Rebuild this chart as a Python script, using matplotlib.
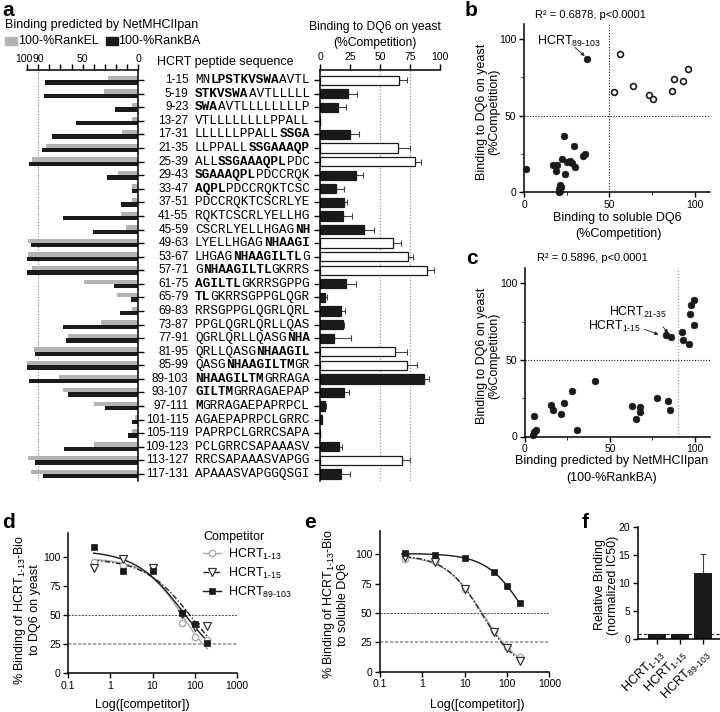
import numpy as np
import matplotlib
matplotlib.use('Agg')
import matplotlib.pyplot as plt
import matplotlib.transforms as mtransforms
from matplotlib.patches import Rectangle
from matplotlib.lines import Line2D
from matplotlib.ticker import FixedLocator, FuncFormatter, NullLocator

plt.rcParams['font.family'] = ['Liberation Sans', 'DejaVu Sans']
plt.rcParams['mathtext.fontset'] = 'custom'
plt.rcParams['mathtext.rm'] = 'Liberation Sans'
plt.rcParams['mathtext.it'] = 'Liberation Sans:italic'
plt.rcParams['mathtext.bf'] = 'Liberation Sans:bold'
plt.rcParams['axes.linewidth'] = 1.1
plt.rcParams['xtick.major.width'] = 1.0
plt.rcParams['ytick.major.width'] = 1.0

# ---------------- data ----------------
peptides = ['1-15', '5-19', '9-23', '13-27', '17-31', '21-35', '25-39', '29-43', '33-47',
            '37-51', '41-55', '45-59', '49-63', '53-67', '57-71', '61-75', '65-79', '69-83',
            '73-87', '77-91', '81-95', '85-99', '89-103', '93-107', '97-111', '101-115',
            '105-119', '109-123', '113-127', '117-131']
sequences = ['MN[LPSTKVSWA]AVTL', '[STKVSWA]AVTLLLLL', '[SWA]AVTLLLLLLLLP', 'VTLLLLLLLLPPALL',
             'LLLLLLPPALL[SSGA]', 'LLPPALL[SSGAAAQP]', 'ALL[SSGAAAQPL]PDC', '[SGAAAQPL]PDCCRQK',
             '[AQPL]PDCCRQKTCSC', 'PDCCRQKTCSCRLYE', 'RQKTCSCRLYELLHG', 'CSCRLYELLHGAG[NH]',
             'LYELLHGAG[NHAAGI]', 'LHGAG[NHAAGILTL]G', 'G[NHAAGILTL]GKRRS', '[AGILTL]GKRRSGPPG',
             '[TL]GKRRSGPPGLQGR', 'RRSGPPGLQGRLQRL', 'PPGLQGRLQRLLQAS', 'QGRLQRLLQASG[NHA]',
             'QRLLQASG[NHAAGIL]', 'QASG[NHAAGILTM]GR', '[NHAAGILTM]GRRAGA', '[GILTM]GRRAGAEPAP',
             '[M]GRRAGAEPAPRPCL', 'AGAEPAPRPCLGRRC', 'PAPRPCLGRRCSAPA', 'PCLGRRCSAPAAASV',
             'RRCSAPAAASVAPGG', 'APAAASVAPGGQSGI']
rank_el = [27, 31, 5, 5, 14, 83, 96, 18, 5, 5, 15, 11, 99, 99, 96, 49, 19, 5, 33, 63,
           94, 100, 71, 68, 40, 3, 5, 40, 99, 97]
rank_ba = [84, 85, 21, 56, 78, 87, 98, 28, 5, 15, 68, 41, 97, 100, 100, 22, 6, 16, 68, 65,
           93, 100, 98, 63, 30, 5, 9, 67, 93, 86]
yeast = [66.1, 23.3, 15.0, 0, 25.3, 65.3, 79.4, 30.0, 13.3, 20.3, 19.4, 36.7, 60.6, 73.0, 89.4,
         21.7, 4.2, 17.2, 18.9, 11.7, 62.8, 72.8, 86.7, 19.7, 4.4, 1.5, 0, 16.0, 68.0, 17.8]
yeast_err = [6.1, 7.8, 6.7, 0, 6.9, 9.7, 4.5, 6.1, 6.7, 1.9, 7.5, 8.3, 6.9, 4.8, 5.6,
             8.3, 1.4, 3.6, 1.4, 13.9, 10.0, 8.3, 4.4, 4.7, 0.6, 0.5, 0, 2.0, 7.0, 7.2]
soluble_binder = ['1-15', '21-35', '25-39', '49-63', '53-67', '57-71', '81-95', '85-99', '113-127']
top_tick_labels = {0: '0', 50: '50', 90: '90', 100: '100'}

# panel b: soluble DQ6 (x) vs yeast (y)
b_open_x = [56.4, 52.5, 64.1, 73.3, 75.8, 86.8, 87.8, 93.2, 96.1]
b_open_y = [90.1, 65.4, 69.3, 63.2, 61.0, 66.4, 73.7, 73.0, 80.3]
b_fill_x = [37.0, 1.2, 23.4, 29.3, 34.8, 35.7, 22.1, 25.0, 27.0, 28.0, 29.9, 17.2, 19.1,
            18.8, 24.0, 21.1, 21.7, 20.7, 21.1, 20.4]
b_fill_y = [86.8, 14.8, 36.8, 30.0, 23.5, 25.2, 21.5, 19.7, 20.2, 19.0, 16.4, 17.5, 17.5,
            13.6, 11.6, 4.8, 3.3, 1.8, 0.7, 0.3]

# panel c: predicted (100-%RankBA) vs yeast
c_x = [5.4, 6.4, 5.4, 5.0, 15.2, 16.6, 21.1, 23.1, 27.4, 30.5, 41.2, 62.8, 67.7, 67.5, 65.6,
       77.9, 84.3, 85.3, 83.0, 86.0, 92.6, 93.2, 96.7, 97.1, 97.7, 99.4, 99.6]
c_y = [13.5, 4.3, 2.7, 1.2, 20.3, 17.1, 14.9, 21.6, 29.5, 4.3, 36.4, 19.8, 19.2, 16.1, 11.2,
       25.4, 23.2, 17.4, 66.3, 65.2, 68.5, 62.7, 60.5, 79.9, 85.9, 89.1, 73.0]

# panels d/e: competition curves
conc = [0.4, 2, 10, 50, 100, 200]
d_hcrt1_13 = [95.4, 93.0, 89.0, 43.4, 31.4, 28.6]
d_hcrt1_15 = [90.0, 97.7, 90.0, 50.9, 39.4, 40.9]
d_hcrt89_103 = [108.6, 87.7, 88.0, 51.4, 42.0, 26.3]
e_hcrt1_13 = [95.7, 94.6, 70.5, 35.0, 21.0, 12.2]
e_hcrt1_15 = [97.4, 93.75, 70.2, 34.1, 19.9, 9.4]
e_hcrt89_103 = [101.4, 99.4, 96.6, 85.2, 73.0, 58.2]

# panel f
f_labels = [r'HCRT$_{\mathregular{1\text{-}13}}$', r'HCRT$_{\mathregular{1\text{-}15}}$',
            r'HCRT$_{\mathregular{89\text{-}103}}$']
f_values = [0.9, 1.0, 11.7]
f_err = [0.0, 0.0, 3.5]

# ---------------- figure ----------------
W, H = 720, 712
fig = plt.figure(figsize=(7.2, 7.12), dpi=100)


def add_ax(l, t, r, b, **kw):
    return fig.add_axes([l / W, 1 - b / H, (r - l) / W, (b - t) / H], **kw)


ov = add_ax(0, 0, W, H)
ov.set_xlim(0, W)
ov.set_ylim(H, 0)
ov.axis('off')
ov.patch.set_alpha(0)

DARK = '#1a1a1a'
GRAY = '#b3b3b3'


def txt(x, y, s, **kw):
    kw.setdefault('fontsize', 9)
    kw.setdefault('va', 'center')
    return ov.text(x, y, s, **kw)


# panel letters
for lab, x, y in [('a', 2, 10), ('b', 465, 10), ('c', 466, 258), ('d', 2, 523),
                  ('e', 304, 523), ('f', 582, 523)]:
    txt(x, y, lab, fontsize=15, fontweight='bold', ha='left')

n = len(peptides)
ypos = np.arange(n)

# ----- panel a, left (prediction) -----
axL = add_ax(27.2, 70, 138, 481.4)
axL.set_xlim(100, 0)
axL.set_ylim(n - 0.45, -0.75)
axL.barh(ypos - 0.16, rank_el, height=0.32, color=GRAY, zorder=2)
axL.barh(ypos + 0.16, rank_ba, height=0.32, color=DARK, zorder=2)
axL.axvline(90, color='#888888', lw=0.8, ls=(0, (1, 1.5)), zorder=1)
for s in ['left', 'bottom']:
    axL.spines[s].set_visible(False)
axL.xaxis.tick_top()
axL.yaxis.tick_right()
axL.set_yticks(ypos)
axL.set_yticklabels([])
axL.set_xticks(np.arange(0, 101, 10))
axL.set_xticklabels([])
axL.tick_params(axis='x', direction='out', length=4)
axL.tick_params(axis='y', direction='out', length=4.5)
axL.patch.set_alpha(0)
# top tick labels; "100" is nudged left so it does not collide with "90"
tl_trans = mtransforms.blended_transform_factory(axL.transData, ov.transData)
for v, s in top_tick_labels.items():
    nudge = -3.0 if v == 100 else 0.0
    ov.text(v - nudge / 1.108, 58.5, s, transform=tl_trans, ha='center', va='center', fontsize=7.5)

# ----- peptide names and sequences -----
trans = mtransforms.blended_transform_factory(ov.transData, axL.transData)
seq_fs = 9.2
cw = 0.6 * seq_fs * 100 / 72.0
for i, (pep, seq) in enumerate(zip(peptides, sequences)):
    ov.text(188.5, i, pep, transform=trans, ha='right', va='center', fontsize=8.5)
    col = 0
    bold = False
    cur = ''
    segs = []
    for ch in seq:
        if ch in '[]':
            if cur:
                segs.append((cur, bold))
            cur = ''
            bold = (ch == '[')
        else:
            cur += ch
    if cur:
        segs.append((cur, bold))
    for s, bd in segs:
        ov.text(195 + col * cw, i, s, transform=trans, ha='left', va='center',
                fontsize=seq_fs, family='Liberation Mono',
                fontweight='bold' if bd else 'normal')
        col += len(s)
txt(157, 62, 'HCRT peptide sequence', ha='left')

# legend of panel a
txt(5, 25, 'Binding predicted by NetMHCIIpan', ha='left')
ov.add_patch(Rectangle((5, 37), 12, 8, color=GRAY))
txt(18, 41, '100-%RankEL', ha='left')
ov.add_patch(Rectangle((106, 37), 12, 8, color=DARK))
txt(118, 41, '100-%RankBA', ha='left')

# ----- panel a, right (yeast) -----
axR = add_ax(320, 70, 440, 481.4)
axR.set_xlim(0, 100)
axR.set_ylim(n - 0.45, -0.75)
fcols = ['white' if p in soluble_binder else DARK for p in peptides]
axR.barh(ypos, yeast, height=0.68, color=fcols, edgecolor=DARK, lw=0.9, zorder=2)
axR.errorbar(yeast, ypos, xerr=[np.zeros(n), yeast_err], fmt='none', ecolor='#444444',
             elinewidth=0.8, capsize=2.2, capthick=0.8, zorder=1.5)
for v in (50, 75):
    axR.axvline(v, color='#999999', lw=0.9, ls=(0, (1, 1.5)), zorder=1)
for s in ['right', 'bottom']:
    axR.spines[s].set_visible(False)
axR.xaxis.tick_top()
axR.set_xticks([0, 25, 50, 75, 100])
axR.set_yticks(ypos)
axR.set_yticklabels([])
axR.tick_params(axis='x', direction='out', length=4, labelsize=7.5, pad=1.5)
axR.tick_params(axis='y', direction='out', length=4.5)
axR.patch.set_alpha(0)
txt(375, 27, 'Binding to DQ6 on yeast', ha='center', fontsize=8.7)
txt(375, 43, '(%Competition)', ha='center', fontsize=8.7)


def style_xy(ax):
    for s in ['right', 'top']:
        ax.spines[s].set_visible(False)
    ax.tick_params(direction='out', length=3.5, labelsize=7.5, pad=2)
    ax.patch.set_alpha(0)


# ----- panel b -----
axB = add_ax(524, 24, 710, 192)
axB.set_xlim(0, 109)
axB.set_ylim(0, 110)
axB.axvline(50, color=DARK, lw=0.8, ls=(0, (1, 1.5)), zorder=1)
axB.axhline(50, color=DARK, lw=0.8, ls=(0, (1, 1.5)), zorder=1)
axB.plot(b_fill_x, b_fill_y, 'o', color=DARK, ms=4.9, mew=0.4, zorder=3, clip_on=False)
axB.plot(b_open_x, b_open_y, 'o', mfc='white', mec=DARK, ms=4.2, mew=1.2, zorder=3)
axB.set_xticks([0, 50, 100])
axB.set_yticks([0, 50, 100])
axB.xaxis.set_minor_locator(FixedLocator([25, 75]))
axB.yaxis.set_minor_locator(FixedLocator([25, 75]))
axB.tick_params(which='minor', direction='out', length=2.5)
style_xy(axB)
axB.text(7.6, 98.9, r'HCRT$_{\mathregular{89\text{-}103}}$', ha='left', va='center', fontsize=9)
axB.annotate('', xy=(35.6, 89.0), xytext=(29.8, 94.7),
             arrowprops=dict(arrowstyle='-|>', lw=0.6, color=DARK, mutation_scale=5,
                             shrinkA=0, shrinkB=0))
txt(590, 15, 'R² = 0.6878, p<0.0001', ha='center', fontsize=8)
txt(488.5, 112, 'Binding to DQ6 on yeast\n(%Competition)', ha='center', rotation=90,
    linespacing=1.05, fontsize=9)
txt(617, 218, 'Binding to soluble DQ6', ha='center', fontsize=9)
txt(618, 234, '(%Competition)', ha='center', fontsize=9)

# ----- panel c -----
axC = add_ax(525, 268, 710, 436.5)
axC.set_xlim(0, 109)
axC.set_ylim(0, 110)
axC.axvline(90, color='#999999', lw=0.9, ls=(0, (1, 1.5)), zorder=1)
axC.axhline(50, color=DARK, lw=0.8, ls=(0, (1, 1.5)), zorder=1)
axC.plot(c_x, c_y, 'o', color=DARK, ms=4.9, mew=0.4, zorder=3, clip_on=False)
axC.set_xticks([0, 50, 100])
axC.set_yticks([0, 50, 100])
axC.xaxis.set_minor_locator(FixedLocator([25, 75]))
axC.yaxis.set_minor_locator(FixedLocator([25, 75]))
axC.tick_params(which='minor', direction='out', length=2.5)
style_xy(axC)
axC.text(83.6, 81.0, r'HCRT$_{\mathregular{21\text{-}35}}$', ha='right', va='center', fontsize=8.8)
axC.text(68.4, 72.0, r'HCRT$_{\mathregular{1\text{-}15}}$', ha='right', va='center', fontsize=8.8)
axC.annotate('', xy=(78.6, 66.6), xytext=(70.4, 70.0),
             arrowprops=dict(arrowstyle='-|>', lw=0.6, color=DARK, mutation_scale=5,
                             shrinkA=0, shrinkB=0))
axC.annotate('', xy=(84.3, 67.6), xytext=(81.3, 71.6),
             arrowprops=dict(arrowstyle='-|>', lw=0.6, color=DARK, mutation_scale=5,
                             shrinkA=0, shrinkB=0))
txt(592, 258, 'R² = 0.5896, p<0.0001', ha='center', fontsize=8)
txt(488.5, 356, 'Binding to DQ6 on yeast\n(%Competition)', ha='center', rotation=90,
    linespacing=1.05, fontsize=9)
txt(612, 461, 'Binding predicted by NetMHCIIpan', ha='center', fontsize=9)
txt(612, 478, '(100-%RankBA)', ha='center', fontsize=9)


# ----- competition curve fit (log inhibitor vs response, variable slope) -----
def fit_curve(x, y):
    x = np.asarray(x, float)
    y = np.asarray(y, float)
    lx = np.log10(x)
    lic = np.linspace(-1, 4, 1001)[:, None, None]
    hh = np.linspace(0.3, 3.0, 271)[None, :, None]
    f = 1.0 / (1.0 + 10 ** ((lx[None, None, :] - lic) * hh))
    top = (f * y).sum(-1) / (f * f).sum(-1)
    res = ((top[..., None] * f - y) ** 2).sum(-1)
    i, j = np.unravel_index(np.argmin(res), res.shape)
    t, l0, h0 = top[i, j], lic[i, 0, 0], hh[0, j, 0]
    return lambda xx: t / (1.0 + 10 ** ((np.log10(xx) - l0) * h0))


series_style = [
    dict(marker='o', mfc='white', mec='#aaaaaa', color='#aaaaaa', ls='-', mew=1.0, ms=4.6),
    dict(marker='v', mfc='white', mec='#333333', color='#222222', ls=(0, (4, 1.5, 1, 1.5)), mew=0.9, ms=5.2),
    dict(marker='s', mfc=DARK, mec=DARK, color=DARK, ls='-', mew=0.5, ms=4.2),
]
series_names = [r'HCRT$_{\mathregular{1\text{-}13}}$', r'HCRT$_{\mathregular{1\text{-}15}}$',
                r'HCRT$_{\mathregular{89\text{-}103}}$']


def comp_panel(ax, datasets):
    xs = np.logspace(np.log10(conc[0]), np.log10(conc[-1]), 200)
    for data, st in zip(datasets, series_style):
        fn = fit_curve(conc, data)
        ax.plot(xs, fn(xs), color=st['color'], ls=st['ls'], lw=1.0, zorder=2)
        ax.plot(conc, data, ls='none', marker=st['marker'], mfc=st['mfc'], mec=st['mec'],
                mew=st['mew'], ms=st['ms'], zorder=3)
    ax.axhline(50, color='#333333', lw=0.6, ls=(0, (2.5, 1.5)), zorder=1)
    ax.axhline(25, color='#999999', lw=1.2, ls=(0, (2, 1)), zorder=1)
    ax.set_xscale('log')
    ax.set_xlim(0.1, 1000)
    ax.set_ylim(0, 120)
    ax.set_xticks([0.1, 1, 10, 100, 1000])
    ax.set_xticklabels(['0.1', '1', '10', '100', '1000'])
    ax.xaxis.set_minor_locator(NullLocator())
    ax.set_yticks([0, 25, 50, 75, 100])
    style_xy(ax)


# ----- panel d -----
axD = add_ax(68.3, 533.3, 236.7, 673.3)
comp_panel(axD, [d_hcrt1_13, d_hcrt1_15, d_hcrt89_103])
txt(26.5, 610, '% Binding of HCRT$_{\\mathregular{1\\text{-}13}}$-Bio\nto DQ6 on yeast', ha='center',
    rotation=90, linespacing=1.05, fontsize=9)
txt(142, 705, 'Log([competitor])', ha='center', fontsize=9)
handles = [Line2D([], [], color=st['color'], ls=st['ls'], lw=1.0, marker=st['marker'],
                  mfc=st['mfc'], mec=st['mec'], mew=st['mew'], ms=st['ms']) for st in series_style]
leg = axD.legend(handles, series_names, title='Competitor', loc='upper left',
                 bbox_to_anchor=(198 / W, 1 - 526 / H), bbox_transform=fig.transFigure,
                 frameon=False, fontsize=9, title_fontsize=9, handlelength=1.4,
                 handletextpad=0.6, labelspacing=0.3, alignment='left', borderaxespad=0)

# ----- panel e -----
axE = add_ax(380, 531, 549.3, 671.7)
comp_panel(axE, [e_hcrt1_13, e_hcrt1_15, e_hcrt89_103])
txt(335, 604, '% Binding of HCRT$_{\\mathregular{1\\text{-}13}}$-Bio\nto soluble DQ6', ha='center',
    rotation=90, linespacing=1.05, fontsize=9)
txt(477, 705, 'Log([competitor])', ha='center', fontsize=9)

# ----- panel f -----
axF = add_ax(637.7, 526.7, 720, 639.3)
xf = np.arange(len(f_values))
axF.bar(xf, f_values, width=0.8, color=DARK, zorder=2)
axF.errorbar(xf, f_values, yerr=[np.zeros(len(f_err)), f_err], fmt='none', ecolor='#444444',
             elinewidth=0.8, capsize=2.5, capthick=0.8, zorder=1.5)
axF.axhline(1, color=DARK, lw=0.8, ls=(0, (3, 2)), zorder=3)
axF.set_xlim(-0.85, 2.75)
axF.set_ylim(0, 20)
axF.set_yticks([0, 5, 10, 15, 20])
axF.set_xticks(xf)
axF.set_xticklabels(f_labels, rotation=45, ha='right', rotation_mode='anchor', fontsize=9)
style_xy(axF)
axF.tick_params(axis='x', labelsize=9)
txt(606.5, 585, 'Relative Binding\n(normalized IC50)', ha='center', rotation=90,
    linespacing=1.05, fontsize=9)

fig.savefig('out.png', dpi=100)
